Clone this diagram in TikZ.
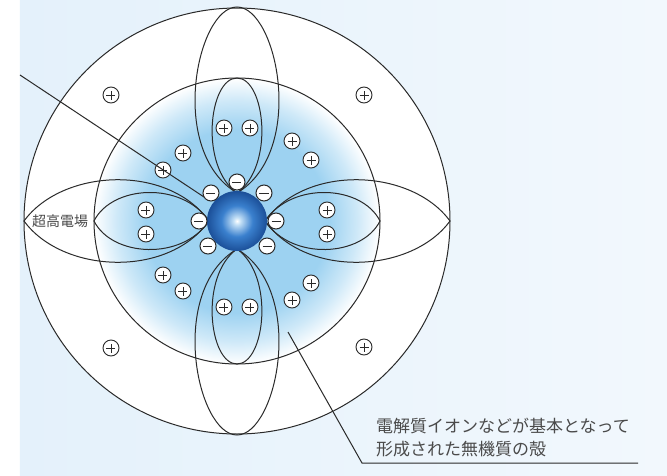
\documentclass[tikz,border=0pt]{standalone}
\usepackage{fontspec}
\newfontfamily\jpfont{Noto Sans CJK JP}

\definecolor{bgblue}{HTML}{E4F1FB}
\definecolor{bgpale}{HTML}{F2F8FD}
\definecolor{glow}{HTML}{9DD2F1}
\definecolor{ballrim}{HTML}{1B4F98}
\definecolor{ballmid}{HTML}{3A80CE}
\definecolor{balllight}{HTML}{C4E0F6}
\definecolor{ink}{HTML}{2A2A2A}
\definecolor{textgray}{HTML}{4A4A4A}

% edge of the shaded circle sits at 25bp
\pgfdeclareradialshading{ball}{\pgfpoint{0bp}{0bp}}{color(0bp)=(white); color(3bp)=(balllight); color(13bp)=(ballmid); color(25bp)=(ballrim); color(50bp)=(ballrim)}
\pgfdeclareradialshading{halo}{\pgfpoint{0bp}{0bp}}{color(0bp)=(glow); color(16bp)=(glow); color(21bp)=(glow!50!white); color(25bp)=(white); color(50bp)=(white)}

\tikzset{
  line/.style={draw=ink, line width=1pt},
  lobe/.style={line},
  ion/.style={circle, draw=ink, fill=white, line width=0.9pt, inner sep=0pt, minimum size=16pt},
  cation/.style={ion, path picture={
      \draw[ink, line width=0.8pt]
        ([xshift=-4.5pt]path picture bounding box.center) -- ([xshift=4.5pt]path picture bounding box.center)
        ([yshift=-4.5pt]path picture bounding box.center) -- ([yshift=4.5pt]path picture bounding box.center);}},
  anion/.style={ion, line width=1pt, path picture={
      \draw[ink, line width=1pt]
        ([xshift=-4.5pt]path picture bounding box.center) -- ([xshift=4.5pt]path picture bounding box.center);}},
}

\begin{document}
\begin{tikzpicture}[x=1pt, y=1pt]
      \useasboundingbox (-237,-254) rectangle (430,221);
      \fill[white] (-237,-254) rectangle (430,221);
      \shade[left color=bgblue, right color=bgpale] (-217,-254) rectangle (430,221);

      \draw[line, fill=white] (0,0) circle (213pt);
      \shade[shading=halo] (0,0) circle (143pt);
      \draw[line] (0,0) circle (143pt);

      \foreach \a in {90,-90} {
        \draw[lobe, rotate=\a] (28,0) .. controls (70,70) and (214,40) .. (214,0) .. controls (214,-40) and (70,-70) .. (28,0);
        \draw[lobe, rotate=\a] (28,0) .. controls (55,38) and (143,28) .. (143,0) .. controls (143,-28) and (55,-38) .. (28,0);
      }
      \foreach \a in {0,180} {
        \draw[lobe, rotate=\a] (28,0) .. controls (70,58) and (175,52) .. (213,0) .. controls (175,-52) and (70,-58) .. (28,0);
        \draw[lobe, rotate=\a] (28,0) .. controls (55,40) and (125,36) .. (143,0) .. controls (125,-36) and (55,-40) .. (28,0);
      }

      \shade[shading=ball] (0,0) circle (30pt);

      \foreach \x/\y [count=\i] in {-126/126, 127/126, -126/-127, 127/-126}
        \node[cation] (far\i) at (\x,\y) {};

      \foreach \x/\y [count=\i] in {-13/93, 13/93, -13/-86, 13/-86,
                                    -91/11, -91/-13, 90/11, 90/-13,
                                    -54/68, -74/51, 55/80, 74/61,
                                    -74/-54, -54/-70, 74/-62, 55/-79}
        \node[cation] (near\i) at (\x,\y) {};

      \node[anion] (an-t) at (0,39) {};
      \node[anion] (an-ul) at (-26,28) {};
      \node[anion] (an-ur) at (27,28) {};
      \node[anion] (an-l) at (-38,0) {};
      \node[anion] (an-r) at (39,0) {};
      \node[anion] (an-ll) at (-29,-25) {};
      \node[anion] (an-lr) at (30,-25) {};

      \coordinate (tagA) at (-217,146);
      \coordinate (tipA) at (-33,24);
      \draw[line] (tagA) -- (tipA);

      \coordinate (tagB) at (51,-111);
      \coordinate (bend) at (125,-242);
      \coordinate (tail) at (401,-242);
      \draw[line] (tagB) -- (bend) -- (tail);

      \node[anchor=west, inner sep=0pt, text=textgray, font=\jpfont\fontsize{14}{16}\selectfont] (field) at (-205,0) {超高電場};
      \node[anchor=west, inner sep=0pt, text=textgray, font=\jpfont\fontsize{17}{20}\selectfont] (shell1) at (139,-205) {電解質イオンなどが基本となって};
      \node[anchor=west, inner sep=0pt, text=textgray, font=\jpfont\fontsize{17}{20}\selectfont] (shell2) at (139,-228) {形成された無機質の殻};
\end{tikzpicture}
\end{document}
